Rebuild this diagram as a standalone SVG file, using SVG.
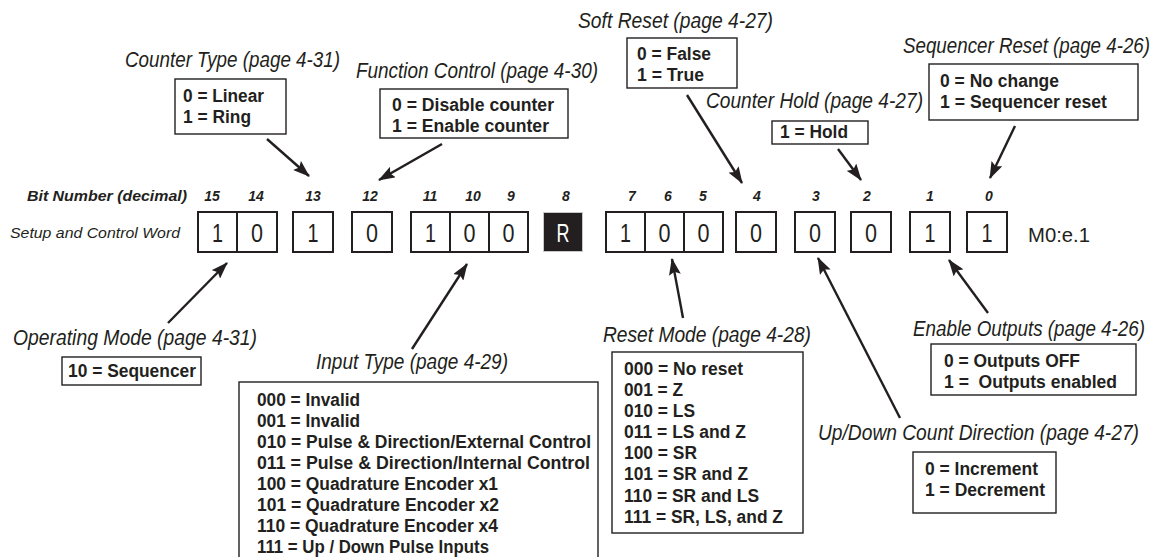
<svg xmlns="http://www.w3.org/2000/svg" width="1166" height="557" viewBox="0 0 1166 557">
<style>
text{font-family:"Liberation Sans Narrow","Liberation Sans",Arial,sans-serif;fill:#231f20}
.t{font-size:22px;font-style:italic}
.b{font-size:18px;font-weight:bold}
.bn{font-size:14px;font-weight:bold;font-style:italic;text-anchor:middle}
.d{font-size:25px;text-anchor:middle}
.bx{fill:#fff;stroke:#231f20;stroke-width:1.4}
.bit{fill:#fff;stroke:#231f20;stroke-width:2}
.c{stroke:#231f20;stroke-width:2.4;fill:none;marker-end:url(#ah)}
</style>
<defs>
<marker id="ah" markerUnits="userSpaceOnUse" markerWidth="17" markerHeight="12" refX="16" refY="6" orient="auto">
<path d="M0,0 L17,6 L0,12 L3,6 Z" fill="#231f20"/>
</marker>
</defs>
<rect width="1166" height="557" fill="#fff"/>

<g id="word">
<text x="27" y="201" style="font-size:14px;font-weight:bold;font-style:italic" textLength="160" lengthAdjust="spacingAndGlyphs">Bit Number (decimal)</text>
<text x="10" y="238" style="font-size:15px;font-style:italic" textLength="170" lengthAdjust="spacingAndGlyphs">Setup and Control Word</text>
<g>
<text class="bn" x="212" y="201">15</text>
<text class="bn" x="256" y="201">14</text>
<text class="bn" x="313" y="201">13</text>
<text class="bn" x="370" y="201">12</text>
<text class="bn" x="430" y="201">11</text>
<text class="bn" x="473" y="201">10</text>
<text class="bn" x="511" y="201">9</text>
<text class="bn" x="566" y="201">8</text>
<text class="bn" x="632" y="201">7</text>
<text class="bn" x="668" y="201">6</text>
<text class="bn" x="703" y="201">5</text>
<text class="bn" x="757" y="201">4</text>
<text class="bn" x="816" y="201">3</text>
<text class="bn" x="867" y="201">2</text>
<text class="bn" x="930" y="201">1</text>
<text class="bn" x="989" y="201">0</text>
</g>
<g>
<rect class="bit" x="198" y="212" width="39" height="40"/>
<rect class="bit" x="237" y="212" width="40" height="40"/>
<rect class="bit" x="293" y="212" width="40" height="40"/>
<rect class="bit" x="352" y="212" width="40" height="40"/>
<rect class="bit" x="411" y="212" width="39" height="40"/>
<rect class="bit" x="450" y="212" width="39" height="40"/>
<rect class="bit" x="489" y="212" width="39" height="40"/>
<rect x="543.5" y="212.5" width="39" height="39" fill="#231f20" stroke="#c8c8c8" stroke-width="1"/>
<rect class="bit" x="606" y="212" width="39" height="40"/>
<rect class="bit" x="645" y="212" width="39" height="40"/>
<rect class="bit" x="684" y="212" width="39" height="40"/>
<rect class="bit" x="736" y="212" width="40" height="40"/>
<rect class="bit" x="795" y="212" width="40" height="40"/>
<rect class="bit" x="851" y="212" width="40" height="40"/>
<rect class="bit" x="910" y="212" width="40" height="40"/>
<rect class="bit" x="967" y="212" width="40" height="40"/>
</g>
<g>
<text class="d" x="217.5" y="242" textLength="11" lengthAdjust="spacingAndGlyphs">1</text>
<text class="d" x="257" y="242" textLength="12" lengthAdjust="spacingAndGlyphs">0</text>
<text class="d" x="313" y="242" textLength="11" lengthAdjust="spacingAndGlyphs">1</text>
<text class="d" x="372" y="242" textLength="12" lengthAdjust="spacingAndGlyphs">0</text>
<text class="d" x="430.5" y="242" textLength="11" lengthAdjust="spacingAndGlyphs">1</text>
<text class="d" x="469.5" y="242" textLength="12" lengthAdjust="spacingAndGlyphs">0</text>
<text class="d" x="508.5" y="242" textLength="12" lengthAdjust="spacingAndGlyphs">0</text>
<text class="d" x="563" y="242" textLength="13" lengthAdjust="spacingAndGlyphs" style="fill:#fff">R</text>
<text class="d" x="625.5" y="242" textLength="11" lengthAdjust="spacingAndGlyphs">1</text>
<text class="d" x="664.5" y="242" textLength="12" lengthAdjust="spacingAndGlyphs">0</text>
<text class="d" x="703.5" y="242" textLength="12" lengthAdjust="spacingAndGlyphs">0</text>
<text class="d" x="756" y="242" textLength="12" lengthAdjust="spacingAndGlyphs">0</text>
<text class="d" x="815" y="242" textLength="12" lengthAdjust="spacingAndGlyphs">0</text>
<text class="d" x="871" y="242" textLength="12" lengthAdjust="spacingAndGlyphs">0</text>
<text class="d" x="930" y="242" textLength="11" lengthAdjust="spacingAndGlyphs">1</text>
<text class="d" x="987" y="242" textLength="11" lengthAdjust="spacingAndGlyphs">1</text>
</g>
<text x="1028" y="242" style="font-size:21px" textLength="62" lengthAdjust="spacingAndGlyphs">M0:e.1</text>
</g>

<g id="counter-type">
<text class="t" transform="translate(125,67) scale(0.85,1)" textLength="252.9" lengthAdjust="spacingAndGlyphs">Counter Type (page 4-31)</text>
<rect class="bx" x="175" y="79" width="111" height="55"/>
<text class="b" x="183" y="102" textLength="81" lengthAdjust="spacingAndGlyphs">0 = Linear</text>
<text class="b" x="183" y="123" textLength="68" lengthAdjust="spacingAndGlyphs">1 = Ring</text>
</g>

<g id="function-control">
<text class="t" transform="translate(356,78) scale(0.85,1)" textLength="284.7" lengthAdjust="spacingAndGlyphs">Function Control (page 4-30)</text>
<rect class="bx" x="380" y="89" width="188" height="49"/>
<text class="b" x="392" y="111" textLength="162" lengthAdjust="spacingAndGlyphs">0 = Disable counter</text>
<text class="b" x="392" y="132" textLength="157" lengthAdjust="spacingAndGlyphs">1 = Enable counter</text>
</g>

<g id="soft-reset">
<text class="t" transform="translate(578,28) scale(0.85,1)" textLength="229.4" lengthAdjust="spacingAndGlyphs">Soft Reset (page 4-27)</text>
<rect class="bx" x="627" y="38" width="110" height="50"/>
<text class="b" x="637" y="60" textLength="74" lengthAdjust="spacingAndGlyphs">0 = False</text>
<text class="b" x="637" y="81" textLength="67" lengthAdjust="spacingAndGlyphs">1 = True</text>
</g>

<g id="counter-hold">
<text class="t" transform="translate(706,108) scale(0.85,1)" textLength="255.3" lengthAdjust="spacingAndGlyphs">Counter Hold (page 4-27)</text>
<rect class="bx" x="772" y="121" width="96" height="23"/>
<text class="b" x="780" y="138" textLength="68" lengthAdjust="spacingAndGlyphs">1 = Hold</text>
</g>

<g id="sequencer-reset">
<text class="t" transform="translate(903,53) scale(0.85,1)" textLength="290.6" lengthAdjust="spacingAndGlyphs">Sequencer Reset (page 4-26)</text>
<rect class="bx" x="929" y="64" width="209" height="56"/>
<text class="b" x="940" y="87" textLength="119" lengthAdjust="spacingAndGlyphs">0 = No change</text>
<text class="b" x="940" y="108" textLength="167" lengthAdjust="spacingAndGlyphs">1 = Sequencer reset</text>
</g>

<g id="operating-mode">
<text class="t" transform="translate(13,345) scale(0.85,1)" textLength="287.1" lengthAdjust="spacingAndGlyphs">Operating Mode (page 4-31)</text>
<rect class="bx" x="62" y="357" width="139" height="28"/>
<text class="b" x="68" y="377" textLength="128" lengthAdjust="spacingAndGlyphs">10 = Sequencer</text>
</g>

<g id="input-type">
<text class="t" transform="translate(316,369) scale(0.85,1)" textLength="225.9" lengthAdjust="spacingAndGlyphs">Input Type (page 4-29)</text>
<rect class="bx" x="239" y="382" width="359" height="190"/>
<text class="b" x="257" y="406" textLength="103" lengthAdjust="spacingAndGlyphs">000 = Invalid</text>
<text class="b" x="257" y="427" textLength="103" lengthAdjust="spacingAndGlyphs">001 = Invalid</text>
<text class="b" x="257" y="448" textLength="334" lengthAdjust="spacingAndGlyphs">010 = Pulse &amp; Direction/External Control</text>
<text class="b" x="257" y="469" textLength="333" lengthAdjust="spacingAndGlyphs">011 = Pulse &amp; Direction/Internal Control</text>
<text class="b" x="257" y="490" textLength="241" lengthAdjust="spacingAndGlyphs">100 = Quadrature Encoder x1</text>
<text class="b" x="257" y="511" textLength="242" lengthAdjust="spacingAndGlyphs">101 = Quadrature Encoder x2</text>
<text class="b" x="257" y="532" textLength="241" lengthAdjust="spacingAndGlyphs">110 = Quadrature Encoder x4</text>
<text class="b" x="257" y="553" textLength="232" lengthAdjust="spacingAndGlyphs">111 = Up / Down Pulse Inputs</text>
</g>

<g id="reset-mode">
<text class="t" transform="translate(603,342) scale(0.85,1)" textLength="244.7" lengthAdjust="spacingAndGlyphs">Reset Mode (page 4-28)</text>
<rect class="bx" x="612" y="352" width="191" height="181"/>
<text class="b" x="624" y="375" textLength="119" lengthAdjust="spacingAndGlyphs">000 = No reset</text>
<text class="b" x="624" y="396" textLength="59" lengthAdjust="spacingAndGlyphs">001 = Z</text>
<text class="b" x="624" y="417" textLength="71" lengthAdjust="spacingAndGlyphs">010 = LS</text>
<text class="b" x="624" y="438" textLength="122" lengthAdjust="spacingAndGlyphs">011 = LS and Z</text>
<text class="b" x="624" y="459" textLength="73" lengthAdjust="spacingAndGlyphs">100 = SR</text>
<text class="b" x="624" y="480" textLength="124" lengthAdjust="spacingAndGlyphs">101 = SR and Z</text>
<text class="b" x="624" y="502" textLength="135" lengthAdjust="spacingAndGlyphs">110 = SR and LS</text>
<text class="b" x="624" y="523" textLength="159" lengthAdjust="spacingAndGlyphs">111 = SR, LS, and Z</text>
</g>

<g id="up-down">
<text class="t" transform="translate(818,440) scale(0.85,1)" textLength="377.6" lengthAdjust="spacingAndGlyphs">Up/Down Count Direction (page 4-27)</text>
<rect class="bx" x="913" y="452" width="143" height="61"/>
<text class="b" x="925" y="475" textLength="113" lengthAdjust="spacingAndGlyphs">0 = Increment</text>
<text class="b" x="925" y="496" textLength="120" lengthAdjust="spacingAndGlyphs">1 = Decrement</text>
</g>

<g id="enable-outputs">
<text class="t" transform="translate(913,336) scale(0.85,1)" textLength="272.9" lengthAdjust="spacingAndGlyphs">Enable Outputs (page 4-26)</text>
<rect class="bx" x="931" y="344" width="205" height="51"/>
<text class="b" x="944" y="367" textLength="136" lengthAdjust="spacingAndGlyphs">0 = Outputs OFF</text>
<text class="b" x="944" y="388" textLength="173" lengthAdjust="spacingAndGlyphs" style="white-space:pre" xml:space="preserve">1 =  Outputs enabled</text>
</g>

<g id="connectors">
<line class="c" x1="267" y1="139" x2="309" y2="176"/>
<line class="c" x1="442" y1="144" x2="379" y2="180"/>
<line class="c" x1="687" y1="95" x2="742" y2="183"/>
<line class="c" x1="838" y1="149" x2="861" y2="180"/>
<line class="c" x1="1015" y1="126" x2="990" y2="178"/>
<line class="c" x1="168" y1="323" x2="227" y2="263"/>
<line class="c" x1="412" y1="349" x2="467" y2="264"/>
<line class="c" x1="683" y1="318" x2="672" y2="259"/>
<line class="c" x1="900" y1="418" x2="818" y2="258"/>
<line class="c" x1="988" y1="313" x2="949" y2="260"/>
</g>
</svg>
